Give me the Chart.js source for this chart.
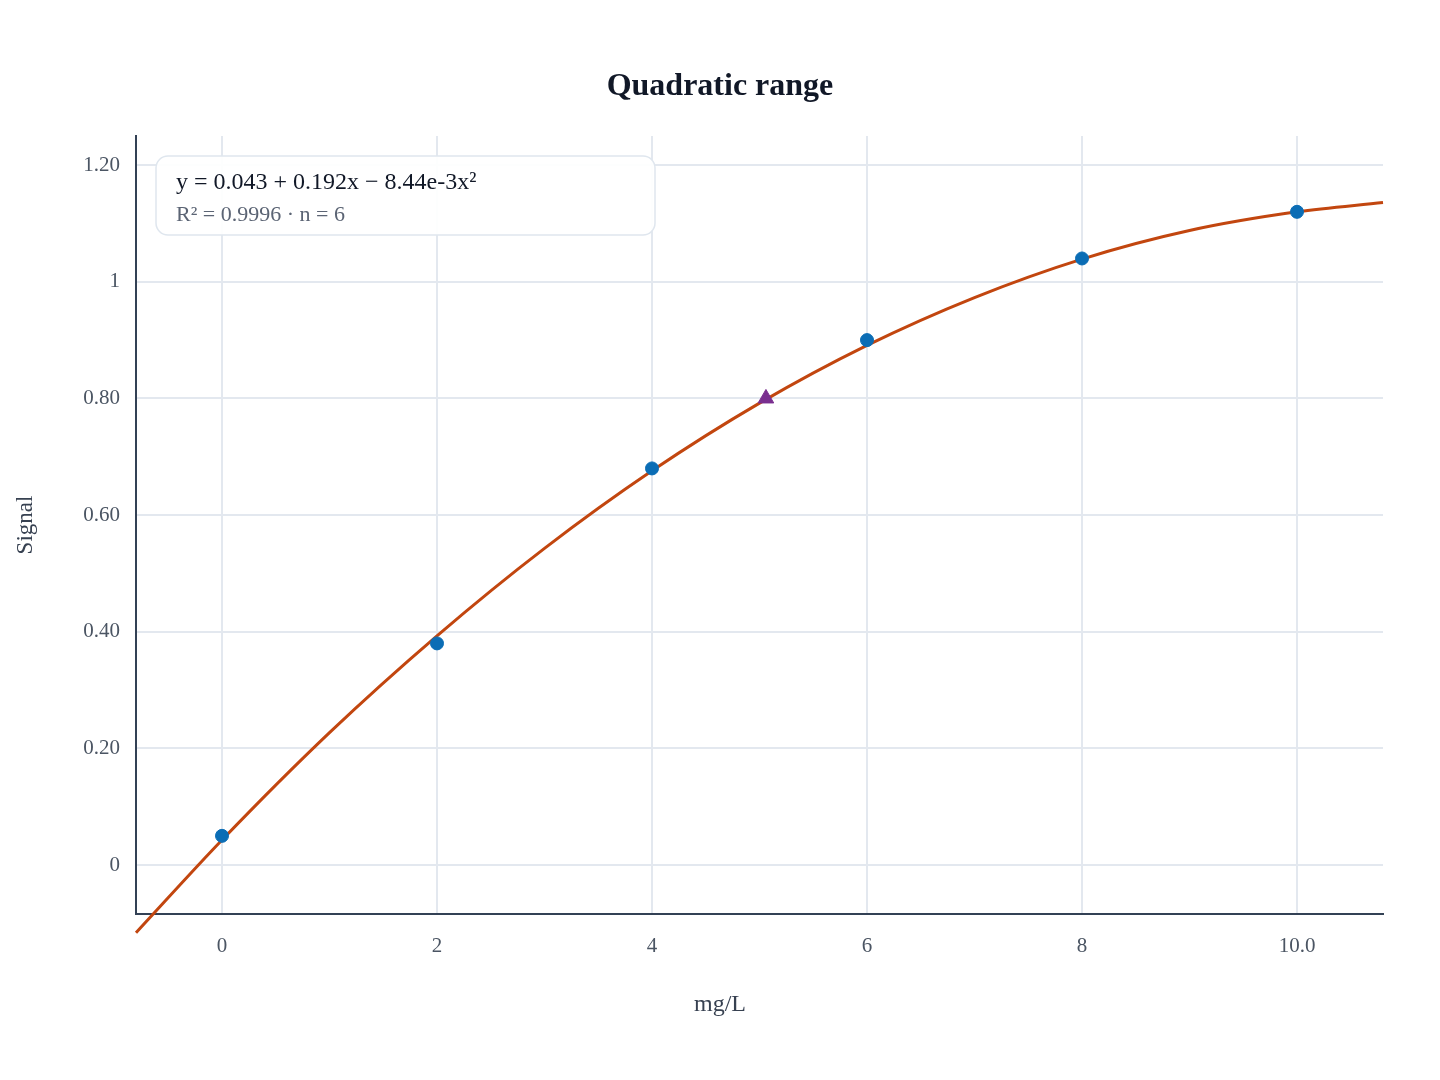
<!DOCTYPE html>
<html>
<head>
<meta charset="utf-8">
<title>Quadratic range</title>
<script src="https://cdn.jsdelivr.net/npm/chart.js@4"></script>
<style>
    html, body { margin: 0; padding: 0; background: #ffffff; }
    #wrap { width: 1440px; height: 1080px; }
</style>
</head>
<body>
<div id="wrap"><canvas id="chart" width="1440" height="1080"></canvas></div>
<script>
// Données
const standardsX = [0, 2, 4, 6, 8, 10];
const standardsY = [0.05, 0.38, 0.68, 0.90, 1.04, 1.12];

// Échantillon inconnu (triangle)
const unknownX = [5.06];
const unknownY = [0.80];

// Courbe d'ajustement
const fitX = [-0.8, 0, 1, 2, 3, 4, 5, 6, 7, 8, 9, 10, 10.8];
const fitY = [-0.116, 0.043, 0.227, 0.393, 0.543, 0.676, 0.792, 0.891, 0.973, 1.039, 1.088, 1.120, 1.136];

// Graduations
const xTicks = [0, 2, 4, 6, 8, 10];
const xTickLabels = ['0', '2', '4', '6', '8', '10.0'];
const yTicks = [0, 0.2, 0.4, 0.6, 0.8, 1.0, 1.2];
const yTickLabels = ['0', '0.20', '0.40', '0.60', '0.80', '1', '1.20'];

// Textes
const chartTitle = 'Quadratic range';
const xAxisTitle = 'mg/L';
const yAxisTitle = 'Signal';
const fitEquation = 'y = 0.043 + 0.192x \u2212 8.44e-3x\u00b2';
const fitStats = 'R\u00b2 = 0.9996 \u00b7 n = 6';

const FONT = "'Liberation Serif', 'Times New Roman', serif";

function toPoints(xs, ys) {
    return xs.map((x, i) => ({ x: x, y: ys[i] }));
}

/**
 * Titre et titre de l'axe X centrés sur toute la largeur de la figure
 */
const pageTextPlugin = {
    id: 'pageText',
    afterDraw(chart) {
        const ctx = chart.ctx;
        ctx.save();
        ctx.textAlign = 'center';
        ctx.textBaseline = 'middle';
        ctx.fillStyle = '#111827';
        ctx.font = 'bold 32px ' + FONT;
        ctx.fillText(chartTitle, chart.width / 2, 87);
        ctx.fillStyle = '#374151';
        ctx.font = '24px ' + FONT;
        ctx.fillText(xAxisTitle, chart.width / 2, 1005);
        ctx.restore();
    }
};

/**
 * Encadré avec l'équation de l'ajustement
 */
const fitBoxPlugin = {
    id: 'fitBox',
    afterDraw(chart) {
        const ctx = chart.ctx;
        const x = 156, y = 156, w = 499, h = 79, r = 12;
        ctx.save();
        ctx.beginPath();
        ctx.roundRect(x, y, w, h, r);
        ctx.fillStyle = 'rgba(255,255,255,0.92)';
        ctx.fill();
        ctx.lineWidth = 1.5;
        ctx.strokeStyle = '#dfe6ee';
        ctx.stroke();

        ctx.textBaseline = 'middle';
        ctx.textAlign = 'left';
        ctx.fillStyle = '#111827';
        ctx.font = '24px ' + FONT;
        ctx.fillText(fitEquation, 176, 183);
        ctx.fillStyle = '#5b6474';
        ctx.font = '22px ' + FONT;
        ctx.fillText(fitStats, 176, 215);
        ctx.restore();
    }
};

const ctx = document.getElementById('chart').getContext('2d');

new Chart(ctx, {
    type: 'scatter',
    data: {
        datasets: [
            {
                label: 'Standards',
                data: toPoints(standardsX, standardsY),
                backgroundColor: '#0b6db5',
                borderColor: '#0b6db5',
                pointRadius: 6.5,
                pointStyle: 'circle',
                order: 0
            },
            {
                label: 'Inconnu',
                data: toPoints(unknownX, unknownY),
                backgroundColor: '#7a2f8f',
                borderColor: '#7a2f8f',
                pointRadius: 9,
                pointStyle: 'triangle',
                order: 1
            },
            {
                label: 'Ajustement',
                data: toPoints(fitX, fitY),
                showLine: true,
                borderColor: '#c2460f',
                backgroundColor: '#c2460f',
                borderWidth: 3,
                pointRadius: 0,
                cubicInterpolationMode: 'monotone',
                clip: false,
                order: 2
            }
        ]
    },
    options: {
        responsive: false,
        animation: false,
        devicePixelRatio: 1,
        layout: { padding: { top: 136, right: 57, left: 8, bottom: 0 } },
        plugins: {
            legend: { display: false },
            tooltip: { enabled: false },
            title: { display: false }
        },
        scales: {
            x: {
                type: 'linear',
                min: -0.8,
                max: 10.8,
                afterBuildTicks(scale) {
                    scale.ticks = xTicks.map(v => ({ value: v }));
                },
                afterFit(scale) { scale.height = 166; },
                grid: { color: '#e3e8ef', lineWidth: 2, drawTicks: false },
                border: { display: true, color: '#334155', width: 2 },
                ticks: {
                    color: '#4b5563',
                    padding: 20,
                    font: { family: FONT, size: 21 },
                    callback: function(value) {
                        const i = xTicks.indexOf(value);
                        return i >= 0 ? xTickLabels[i] : '';
                    }
                },
                title: { display: false }
            },
            y: {
                type: 'linear',
                min: -0.084,
                max: 1.25,
                afterBuildTicks(scale) {
                    scale.ticks = yTicks.map(v => ({ value: v }));
                },
                afterFit(scale) { scale.width = 128; },
                grid: { color: '#e3e8ef', lineWidth: 2, drawTicks: false },
                border: { display: true, color: '#334155', width: 2 },
                ticks: {
                    color: '#4b5563',
                    padding: 16,
                    font: { family: FONT, size: 21 },
                    callback: function(value) {
                        const i = yTicks.findIndex(t => Math.abs(t - value) < 1e-9);
                        return i >= 0 ? yTickLabels[i] : '';
                    }
                },
                title: {
                    display: true,
                    text: yAxisTitle,
                    color: '#374151',
                    font: { family: FONT, size: 23 }
                }
            }
        }
    },
    plugins: [fitBoxPlugin, pageTextPlugin]
});
</script>
</body>
</html>
